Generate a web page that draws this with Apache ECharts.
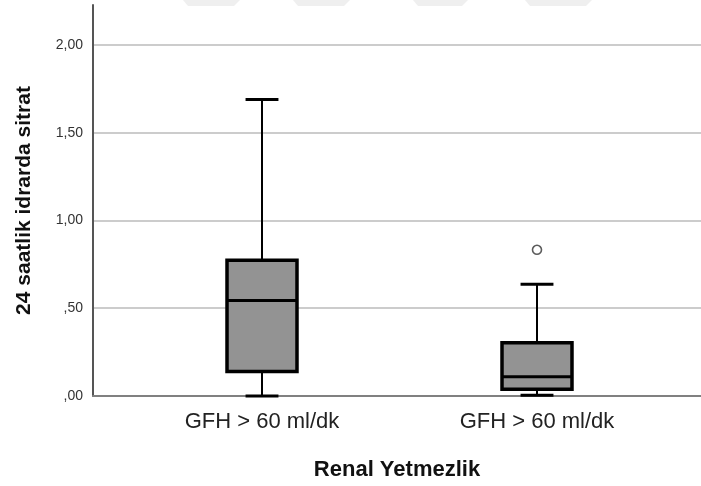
<!DOCTYPE html>
<html>
<head>
<meta charset="utf-8">
<script src="https://cdn.jsdelivr.net/npm/echarts@6/dist/echarts.min.js"></script>
<style>html,body{margin:0;padding:0;background:#fff}#c{width:701px;height:486px}</style>
</head>
<body>
<div id="c"></div>
<script>
// ---- data ----
var categories = ['GFH > 60 ml/dk', 'GFH > 60 ml/dk'];
var whiskerLow = [0.012, 0.015];
var q1 = [0.150, 0.049];
var median = [0.553, 0.121];
var q3 = [0.781, 0.313];
var whiskerHigh = [1.691, 0.644];
var outliers = [[1, 0.840]];
var yTicks = [0, 0.5, 1.0, 1.5, 2.0];
var yTitle = '24 saatlik idrarda sitrat';
var xTitle = 'Renal Yetmezlik';

var FONT = '"Liberation Sans", Arial, sans-serif';
var YMAX = 2.227;

var boxData = categories.map(function (c, i) {
  return [i, whiskerLow[i], q1[i], median[i], q3[i], whiskerHigh[i]];
});

function fmt(v) {
  var s = v.toFixed(2).replace('.', ',');
  if (s.charAt(0) === '0') s = s.slice(1);
  return s;
}

var chart = echarts.init(document.getElementById('c'), null, {renderer: 'canvas'});

var option = {
  backgroundColor: '#ffffff',
  animation: false,
  grid: [
    {left: 93, right: 0, top: 5, bottom: 88},
    {left: 124.5, width: 550, top: 5, bottom: 88}
  ],
  xAxis: [
    {gridIndex: 0, type: 'value', min: 0, max: 1,
      axisLine: {show: true, lineStyle: {color: '#808080', width: 2}},
      axisTick: {show: false}, axisLabel: {show: false}, splitLine: {show: false},
      name: xTitle, nameLocation: 'middle', nameGap: 63,
      nameTextStyle: {color: '#111', fontFamily: FONT, fontSize: 22, fontWeight: 'bold'}},
    {gridIndex: 1, type: 'category', data: categories,
      axisLine: {show: false}, axisTick: {show: false}, splitLine: {show: false},
      axisLabel: {show: true, interval: 0, color: '#222', fontFamily: FONT, fontSize: 22, margin: 13}}
  ],
  yAxis: [
    {gridIndex: 0, type: 'value', min: 0, max: YMAX, interval: 0.5,
      axisLine: {show: true, lineStyle: {color: '#555', width: 2}},
      axisTick: {show: false},
      axisLabel: {color: '#333', fontFamily: FONT, fontSize: 14, margin: 10, showMaxLabel: false,
        formatter: function (v) { return yTicks.indexOf(v) >= 0 ? fmt(v) : ''; }},
      splitLine: {show: true, showMaxLine: false, lineStyle: {color: '#cccccc', width: 2}},
      name: yTitle, nameLocation: 'middle', nameGap: 58, nameRotate: 90,
      nameTextStyle: {color: '#111', fontFamily: FONT, fontSize: 21, fontWeight: 'bold'}},
    {gridIndex: 1, type: 'value', min: 0, max: YMAX, show: false}
  ],
  graphic: [
    {type: 'polygon', shape: {points: [[183, 0], [240, 0], [234, 6], [188, 6]]}, style: {fill: '#efefef'}, silent: true},
    {type: 'polygon', shape: {points: [[293, 0], [350, 0], [344, 6], [298, 6]]}, style: {fill: '#efefef'}, silent: true},
    {type: 'polygon', shape: {points: [[413, 0], [468, 0], [462, 6], [418, 6]]}, style: {fill: '#efefef'}, silent: true},
    {type: 'polygon', shape: {points: [[525, 0], [592, 0], [586, 6], [530, 6]]}, style: {fill: '#efefef'}, silent: true}
  ],
  series: [
    {
      type: 'custom',
      xAxisIndex: 1, yAxisIndex: 1,
      data: boxData,
      encode: {x: 0, y: [1, 2, 3, 4, 5]},
      renderItem: function (params, api) {
        var idx = api.value(0);
        var pLow = api.coord([idx, api.value(1)]);
        var pQ1 = api.coord([idx, api.value(2)]);
        var pMed = api.coord([idx, api.value(3)]);
        var pQ3 = api.coord([idx, api.value(4)]);
        var pHigh = api.coord([idx, api.value(5)]);
        var band = api.size([1, 0])[0];
        var bw = band * 0.2545;
        var cw = bw * 0.47;
        var x = pMed[0];
        var wStyle = {stroke: '#000', lineWidth: 2};
        return {
          type: 'group',
          children: [
            {type: 'line', shape: {x1: x, y1: pHigh[1], x2: x, y2: pQ3[1]}, style: wStyle},
            {type: 'line', shape: {x1: x, y1: pQ1[1], x2: x, y2: pLow[1]}, style: wStyle},
            {type: 'line', shape: {x1: x - cw / 2, y1: pHigh[1], x2: x + cw / 2, y2: pHigh[1]}, style: {stroke: '#000', lineWidth: 3}},
            {type: 'line', shape: {x1: x - cw / 2, y1: pLow[1], x2: x + cw / 2, y2: pLow[1]}, style: {stroke: '#000', lineWidth: 3}},
            {type: 'rect', shape: {x: x - bw / 2, y: pQ3[1], width: bw, height: pQ1[1] - pQ3[1]},
              style: {fill: '#939393', stroke: '#000', lineWidth: 3.5}},
            {type: 'line', shape: {x1: x - bw / 2, y1: pMed[1], x2: x + bw / 2, y2: pMed[1]}, style: {stroke: '#000', lineWidth: 3}}
          ]
        };
      }
    },
    {
      type: 'scatter',
      xAxisIndex: 1, yAxisIndex: 1,
      data: outliers,
      symbol: 'circle', symbolSize: 9,
      itemStyle: {color: '#fff', borderColor: '#333', borderWidth: 1.6}
    }
  ]
};
chart.setOption(option);
</script>
</body>
</html>
